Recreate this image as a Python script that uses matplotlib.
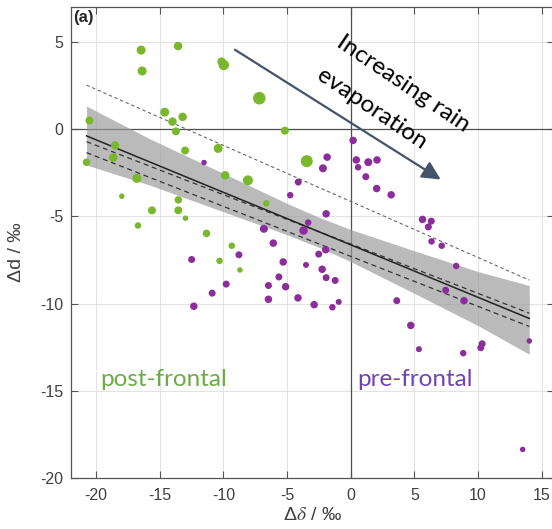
import matplotlib
matplotlib.use('agg')
import matplotlib.pyplot as plt
import numpy as np

plt.rcParams['font.family'] = ['Liberation Sans', 'DejaVu Sans']
plt.rcParams['axes.unicode_minus'] = False
plt.rcParams['mathtext.fontset'] = 'stix'

# post-frontal samples (green): delta-delta, delta-d, marker diameter (px)
post_dx = [-16.46, -13.56, -16.38, -10.14, -9.97, -7.18, -14.61, -14.0, -13.2, -13.73,
           -20.52, -20.75, -18.51, -18.65, -13.01, -10.41, -5.17, -3.45, -9.86, -8.07,
           -16.8, -17.98, -15.61, -13.54, -13.54, -12.98, -16.71, -11.33, -6.63, -9.34,
           -10.30, -8.70]
post_dd = [4.54, 4.77, 3.34, 3.88, 3.69, 1.78, 0.98, 0.44, 0.71, -0.12,
           0.50, -1.89, -0.93, -1.62, -1.22, -1.10, -0.08, -1.83, -2.64, -2.93,
           -2.82, -3.84, -4.65, -4.05, -4.65, -5.10, -5.52, -5.97, -4.25, -6.68,
           -7.55, -8.07]
post_w = [9, 8.5, 9, 8.5, 10.5, 12.5, 9, 8.5, 8.5, 8,
          8, 7.5, 8.5, 8.5, 8, 9, 8, 12, 8.5, 10,
          9, 5.5, 8, 7.5, 8, 5.5, 6.5, 7.5, 6.5, 6.5,
          6.5, 5.5]

# pre-frontal samples (purple)
pre_dx = [0.19, -11.52, -1.85, -2.18, 0.44, 0.58, 1.38, 2.07, 1.19, -4.12,
          2.04, 3.18, -4.75, -1.93, -3.34, -3.70, -6.82, -6.08, 5.64, 6.33,
          6.10, 6.35, 7.15, -2.51, -1.96, -8.78, -12.49, -5.30, -3.51, -2.24,
          -1.93, -1.22, 8.29, 7.46, 8.90, 3.62, -5.64, -5.11, -6.46, -9.78,
          -10.88, -6.46, -4.14, -12.32, -2.87, -1.44, -0.94, 4.72, 5.36, 8.84,
          10.22, 10.33, 14.03, 13.51]
pre_dd = [-0.64, -1.91, -1.60, -2.24, -1.76, -2.18, -1.89, -1.76, -2.72, -3.03,
          -3.40, -3.76, -3.78, -4.85, -5.35, -5.81, -5.71, -6.53, -5.17, -5.27,
          -5.60, -6.43, -6.68, -7.16, -6.91, -7.20, -7.47, -7.61, -7.78, -8.03,
          -8.51, -8.67, -7.84, -9.23, -9.83, -9.83, -8.47, -9.03, -8.96, -8.88,
          -9.40, -9.75, -9.67, -10.15, -10.06, -10.21, -9.90, -11.25, -12.61, -12.84,
          -12.53, -12.30, -12.14, -18.36]
pre_w = [7.5, 5.5, 7.5, 8, 7.5, 6.5, 8, 7.5, 7, 7,
         7.5, 7.5, 6.5, 7.5, 6.5, 8.5, 8, 7.5, 7.5, 7,
         7, 6.5, 6.5, 7, 7.5, 7, 7, 7.5, 6, 7.5,
         7, 7, 6.5, 7, 7.5, 7, 7, 7.5, 7, 7,
         7, 7.5, 7.5, 7.5, 7.5, 6.5, 6, 7.5, 6, 6.5,
         7, 7, 5.5, 5.5]

# regression fit, confidence band and dashed fits
fit_x = [-20.75, 14.03]
fit_y = [-0.38, -10.85]
dash_upper = [2.53, -8.65]
dash_mid1 = [-0.71, -10.55]
dash_mid2 = [-1.34, -11.31]
band_x = [-20.75, -15.8, -10, -5, -2.5, 0, 5, 10, 14.03]
band_hi = [1.33, -0.54, -2.53, -4.25, -5.05, -5.75, -6.97, -8.16, -8.96]
band_lo = [-2.05, -3.20, -4.73, -6.05, -6.77, -7.59, -9.41, -11.26, -12.9]

green = '#79B82C'
purple = '#8B2E9C'
px2pt = 0.72

fig = plt.figure(figsize=(5.52, 5.29), dpi=100)
ax = fig.add_axes([0.1279, 0.0964, 0.8764, 0.890])

ax.fill_between(band_x, band_lo, band_hi, color='#9A9A9A', alpha=0.68, lw=0, zorder=2)
ax.axhline(0, color='#505050', lw=0.9, zorder=1.5)
ax.axvline(0, color='#505050', lw=0.9, zorder=1.5)

ax.plot(fit_x, dash_upper, color='#666666', lw=0.8, ls=(0, (3, 2.5)), zorder=3)
ax.plot(fit_x, dash_mid1, color='#333333', lw=0.9, ls=(0, (4, 3)), zorder=3)
ax.plot(fit_x, dash_mid2, color='#333333', lw=0.9, ls=(0, (4, 3)), zorder=3)
ax.plot(fit_x, fit_y, color='#222222', lw=1.1, zorder=3)

ax.scatter(post_dx, post_dd, s=(np.array(post_w) * px2pt) ** 2, color=green, lw=0, zorder=4)
ax.scatter(pre_dx, pre_dd, s=(np.array(pre_w) * px2pt) ** 2, color=purple, lw=0, zorder=4)

ax.set_xlim(-22, 16)
ax.set_ylim(-20, 7)
ax.set_xticks(np.arange(-20, 16, 5))
ax.set_yticks(np.arange(-20, 6, 5))
ax.grid(True, color='#E3E3E3', lw=0.8)
ax.set_axisbelow(True)
ax.tick_params(direction='in', top=True, right=True, length=5, width=0.8,
               color='#555555', labelcolor='#404040', labelsize=11.5)
ax.tick_params(axis='x', pad=7)
ax.tick_params(axis='y', pad=5)
for sp in ax.spines.values():
    sp.set_color('#555555')
    sp.set_linewidth(0.9)

ax.set_ylabel('Δd / ‰', fontsize=14, color='#404040')
ax.yaxis.set_label_coords(-0.095, 0.48)
ax.set_xlabel('Δ$\\delta$ / ‰', fontsize=14, color='#404040')
ax.xaxis.set_label_coords(0.501, -0.061)

ax.text(-21.8, 6.85, '(a)', fontsize=12, fontweight='bold', color='#262626', va='top', ha='left')

ax.annotate('', xy=(7.07, -2.88), xytext=(-9.09, 4.56),
            arrowprops=dict(arrowstyle='-|>', color='#44546A', lw=1.6, mutation_scale=28,
                            shrinkA=0, shrinkB=0), zorder=5)
txt_kw = dict(rotation=-34, rotation_mode='anchor', ha='center', va='center',
              fontsize=17.5, family=['Lato', 'DejaVu Sans'], color='black', zorder=6)
ax.text(4.11, 2.60, 'Increasing rain', **txt_kw)
ax.text(1.67, 1.16, 'evaporation', **txt_kw)

ax.text(-19.7, -14.75, 'post-frontal', fontsize=17.5, family=['Lato', 'DejaVu Sans'],
        color='#6CAB45', ha='left', va='baseline')
ax.text(0.55, -14.7, 'pre-frontal', fontsize=17.5, family=['Lato', 'DejaVu Sans'],
        color='#6E45B3', ha='left', va='baseline')

fig.savefig('out.png', dpi=100)
